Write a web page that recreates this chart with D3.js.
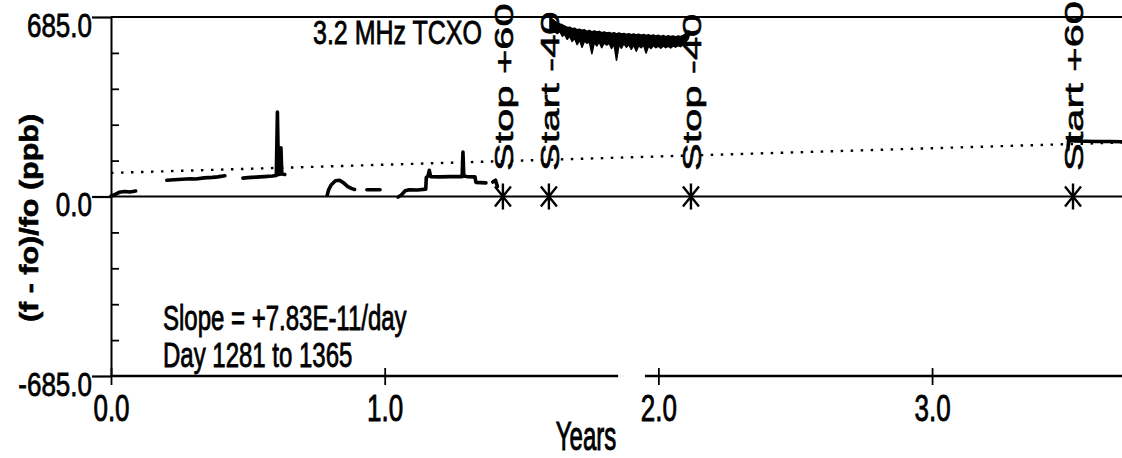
<!DOCTYPE html>
<html>
<head>
<meta charset="utf-8">
<script src="https://cdn.jsdelivr.net/npm/d3@7"></script>
<style>
  html, body { margin: 0; padding: 0; background: #fff; }
  svg { display: block; }
  text { font-family: "Liberation Sans", Arial, Helvetica, sans-serif; fill: #000; stroke: #000; stroke-width: 0.6px; }
</style>
</head>
<body>
<script>
// ---------- data (years, ppb) ----------
const seg1 = [[0.0,2],[0.015,8],[0.03,16],[0.05,19],[0.07,17],[0.09,21]];
const seg2 = [[0.204,62],[0.23,64],[0.26,66],[0.29,68],[0.31,67],[0.34,71],[0.37,73],[0.39,75],[0.416,79]];
const seg3 = [[0.482,70],[0.50,72],[0.53,74],[0.56,76],[0.59,78],[0.604,80],[0.608,322],[0.612,84],[0.618,85],[0.621,186],[0.624,86],[0.635,84]];
const seg4 = [[0.79,5],[0.795,25],[0.805,45],[0.82,60],[0.835,62],[0.85,52],[0.865,38],[0.88,30],[0.89,27]];
const seg5 = [[0.935,26],[0.983,26]];
const seg6 = [[1.049,-2],[1.06,5],[1.075,22],[1.09,26],[1.12,25],[1.15,28],[1.152,72],[1.158,78],[1.163,100],[1.168,76],[1.20,75],[1.24,76],[1.283,76],[1.286,170],[1.289,78],[1.30,76],[1.33,75],[1.333,54],[1.37,52]];
const seg6b = [[1.395,55],[1.405,62],[1.412,38]];
const seg8 = [[3.497,190],[3.50,225],[3.505,215],[3.52,212],[3.56,211],[3.60,210],[3.65,210],[3.694,209]];
const segments = [seg1, seg2, seg3, seg4, seg5, seg6, seg6b, seg8];

// noisy block between Start -40 and Stop -40: upper and lower envelope (ppb)
const blockX = [1.604,1.613,1.622,1.631,1.640,1.649,1.658,1.667,1.676,1.685,1.694,1.703,1.712,1.721,1.730,1.739,1.748,1.757,1.766,1.775,
  1.784,1.793,1.802,1.811,1.820,1.829,1.838,1.847,1.856,1.865,1.874,1.883,1.892,1.901,1.910,1.919,1.928,1.937,1.946,1.955,
  1.964,1.973,1.982,1.991,2.000,2.009,2.018,2.027,2.036,2.045,2.054,2.063,2.072,2.081,2.090,2.099,2.108,2.112];
const blockHi = [684,676,668,662,658,655,650,645,646,640,642,636,638,634,636,630,634,628,632,628,
  630,625,628,624,626,622,625,620,624,620,622,618,621,617,620,616,619,615,618,614,
  617,613,616,612,615,611,614,610,613,610,612,609,612,610,614,620,630,632];
const blockLo = [625,630,628,622,630,612,618,600,612,592,604,580,598,570,594,585,590,545,588,575,
  590,568,586,578,585,565,582,520,580,566,584,570,580,562,578,555,576,568,578,548,
  574,565,576,568,574,566,575,568,574,567,575,570,576,572,580,590,600,612];

const trend = [[0, 90], [3.694, 206]];

const eventX = [1.432, 1.600, 2.119, 3.515];
const eventLabels = ["Stop +60", "Start -40", "Stop -40", "Start +60"];

const yMajor = [-685, 0, 685];
const yMinor = [-548, -411, -274, -137, 137, 274, 411, 548];
const xTicks = [0, 1, 2, 3];
const xDomain = [0, 3.694];
const bottomAxisPieces = [[0, 1.853], [1.951, 3.694]];

const title = "3.2 MHz TCXO";
const yTitle = "(f - fo)/fo (ppb)";
const xTitle = "Years";
const notes = ["Slope =  +7.83E-11/day", "Day 1281 to 1365"];

// ---------- layout ----------
const W = 1122, H = 458;
const x = d3.scaleLinear().domain(xDomain).range([111, 1122]);
const y = d3.scaleLinear().domain([-685, 685]).range([376, 17]);

const svg = d3.select("body").append("svg").attr("width", W).attr("height", H);

function stretchText(g, str, tx, ty, size, k, anchor, rot, weight) {
  return g.append("text")
    .attr("transform", `translate(${tx},${ty}) scale(1,${k})` + (rot ? " rotate(-90)" : ""))
    .attr("text-anchor", anchor)
    .style("font-size", size + "px")
    .style("font-weight", weight || "normal")
    .text(str);
}

// horizontal reference lines (top and zero)
svg.append("g").selectAll("line").data([685, 0]).join("line")
  .attr("x1", x(0)).attr("x2", W)
  .attr("y1", d => y(d)).attr("y2", d => y(d))
  .attr("stroke", "#000").attr("stroke-width", 2.2);

// bottom axis line with gap
svg.append("g").selectAll("line").data(bottomAxisPieces).join("line")
  .attr("x1", d => x(d[0])).attr("x2", d => x(d[1]))
  .attr("y1", y(-685)).attr("y2", y(-685))
  .attr("stroke", "#000").attr("stroke-width", 2.4);

// left axis (major)
const gy = svg.append("g").attr("transform", `translate(${x(0)},0)`)
  .call(d3.axisLeft(y).tickValues(yMajor).tickSize(19).tickSizeOuter(0).tickFormat(d => d.toFixed(1)));
gy.select(".domain").attr("stroke-width", 2);
gy.selectAll(".tick line").attr("stroke-width", 2.2);
gy.selectAll(".tick text")
  .attr("x", null).attr("dy", null).attr("fill", null)
  .attr("transform", "translate(-19,19) scale(1,1.3)")
  .attr("text-anchor", "end")
  .style("font-size", "26px").style("font-family", null);

// left axis minor ticks (inside)
const gy2 = svg.append("g").attr("transform", `translate(${x(0)},0)`)
  .call(d3.axisRight(y).tickValues(yMinor).tickSize(8).tickFormat(""));
gy2.select(".domain").remove();
gy2.selectAll(".tick line").attr("stroke-width", 1.8);

// bottom axis ticks & labels
const gx = svg.append("g").attr("transform", `translate(0,${y(-685)})`)
  .call(d3.axisBottom(x).tickValues(xTicks).tickSize(9).tickFormat(d => d.toFixed(1)));
gx.select(".domain").remove();
gx.selectAll(".tick line").attr("y1", -8).attr("stroke-width", 1.8);
gx.selectAll(".tick text")
  .attr("y", null).attr("dy", null).attr("fill", null)
  .attr("transform", "translate(0,45) scale(1,1.45)")
  .style("font-size", "26px").style("font-family", null);

// trend line (dotted)
const line = d3.line().x(d => x(d[0])).y(d => y(d[1]));
svg.append("path").datum(trend).attr("d", line)
  .attr("fill", "none").attr("stroke", "#000").attr("stroke-width", 2.4)
  .attr("stroke-dasharray", "2.5 7.5");

// data segments
svg.append("g").selectAll("path").data(segments).join("path")
  .attr("d", line).attr("fill", "none").attr("stroke", "#000")
  .attr("stroke-width", 3.6).attr("stroke-linejoin", "round").attr("stroke-linecap", "round");

// noisy block as envelope
const area = d3.area().x((d, i) => x(blockX[i])).y0((d, i) => y(blockLo[i])).y1((d, i) => y(blockHi[i]));
svg.append("path").datum(blockX).attr("d", area)
  .attr("fill", "#000").attr("stroke", "#000").attr("stroke-width", 1.6).attr("stroke-linejoin", "round");

// event asterisks
const star = "M0,-13L0,13M-8,-10L8,10M-8,10L8,-10";
svg.append("g").selectAll("path").data(eventX).join("path")
  .attr("transform", d => `translate(${x(d)},${y(0)})`)
  .attr("d", star).attr("stroke", "#000").attr("stroke-width", 2.4).attr("fill", "none");

// event labels (rotated)
const ge = svg.append("g");
eventX.forEach((d, i) => {
  stretchText(ge, eventLabels[i], x(d) + 10, 171, 26, 1.6, "start", true, "normal");
});

// titles and notes
stretchText(svg, title, 313, 44, 25, 1.35, "start", false, "normal");
stretchText(svg, notes[0], 163, 330, 24, 1.45, "start", false, "normal");
stretchText(svg, notes[1], 163, 367, 24, 1.45, "start", false, "normal");
stretchText(svg, xTitle, 586, 450, 24, 1.7, "middle", false, "normal");
stretchText(svg, yTitle, 38, 218, 25, 1.22, "middle", true, "bold");
</script>
</body>
</html>
